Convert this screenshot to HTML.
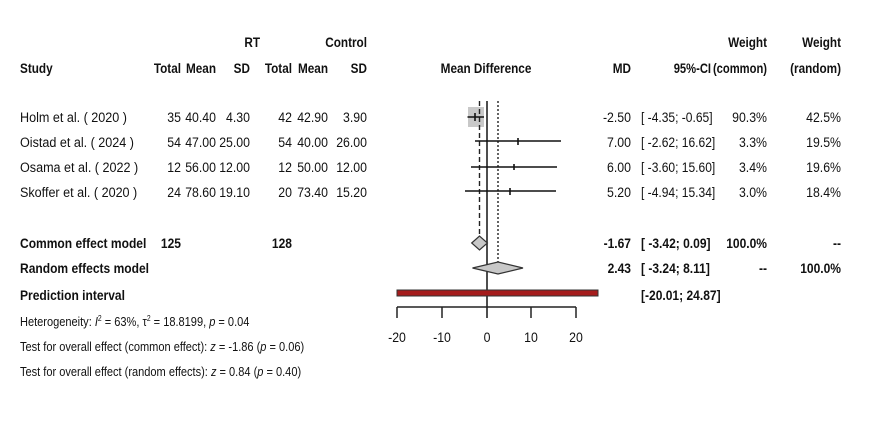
<!DOCTYPE html>
<html><head><style>
body{margin:0;background:#fff;}
svg text{font-family:"Liberation Sans Narrow","Liberation Sans",sans-serif;font-size:14px;fill:#111;}
.b{font-weight:bold;}
</style></head><body>
<svg width="886" height="431" viewBox="0 0 886 431" xmlns="http://www.w3.org/2000/svg">
<g>
<text class="b" text-anchor="end" transform="translate(260,47) scale(.84,1)">RT</text>
<text class="b" text-anchor="end" transform="translate(367,47) scale(.84,1)">Control</text>
<text class="b" text-anchor="end" transform="translate(767,47) scale(.84,1)">Weight</text>
<text class="b" text-anchor="end" transform="translate(841,47) scale(.84,1)">Weight</text>
<text class="b" transform="translate(20,73) scale(.84,1)">Study</text>
<text class="b" text-anchor="end" transform="translate(181,73) scale(.84,1)">Total</text>
<text class="b" text-anchor="end" transform="translate(216,73) scale(.84,1)">Mean</text>
<text class="b" text-anchor="end" transform="translate(250,73) scale(.84,1)">SD</text>
<text class="b" text-anchor="end" transform="translate(292,73) scale(.84,1)">Total</text>
<text class="b" text-anchor="end" transform="translate(328,73) scale(.84,1)">Mean</text>
<text class="b" text-anchor="end" transform="translate(367,73) scale(.84,1)">SD</text>
<text class="b" text-anchor="middle" transform="translate(486,73) scale(.84,1)">Mean Difference</text>
<text class="b" text-anchor="end" transform="translate(631,73) scale(.84,1)">MD</text>
<text class="b" text-anchor="end" transform="translate(711,73) scale(.8,1)">95%-CI</text>
<text class="b" text-anchor="end" transform="translate(767,73) scale(.8,1)">(common)</text>
<text class="b" text-anchor="end" transform="translate(841,73) scale(.84,1)">(random)</text>
</g>
<g>
<g transform="translate(0,122)">
<text transform="translate(20,0) scale(.9,1)">Holm et al. ( 2020 )</text>
<text text-anchor="end" transform="translate(181,0) scale(.88,1)">35</text>
<text text-anchor="end" transform="translate(216,0) scale(.88,1)">40.40</text>
<text text-anchor="end" transform="translate(250,0) scale(.88,1)">4.30</text>
<text text-anchor="end" transform="translate(292,0) scale(.88,1)">42</text>
<text text-anchor="end" transform="translate(328,0) scale(.88,1)">42.90</text>
<text text-anchor="end" transform="translate(367,0) scale(.88,1)">3.90</text>
<text text-anchor="end" transform="translate(631,0) scale(.88,1)">-2.50</text>
<text transform="translate(641,0) scale(.86,1)">[ -4.35; -0.65]</text>
<text text-anchor="end" transform="translate(767,0) scale(.88,1)">90.3%</text>
<text text-anchor="end" transform="translate(841,0) scale(.88,1)">42.5%</text>
</g>
<g transform="translate(0,147)">
<text transform="translate(20,0) scale(.9,1)">Oistad et al. ( 2024 )</text>
<text text-anchor="end" transform="translate(181,0) scale(.88,1)">54</text>
<text text-anchor="end" transform="translate(216,0) scale(.88,1)">47.00</text>
<text text-anchor="end" transform="translate(250,0) scale(.88,1)">25.00</text>
<text text-anchor="end" transform="translate(292,0) scale(.88,1)">54</text>
<text text-anchor="end" transform="translate(328,0) scale(.88,1)">40.00</text>
<text text-anchor="end" transform="translate(367,0) scale(.88,1)">26.00</text>
<text text-anchor="end" transform="translate(631,0) scale(.88,1)">7.00</text>
<text transform="translate(641,0) scale(.86,1)">[ -2.62; 16.62]</text>
<text text-anchor="end" transform="translate(767,0) scale(.88,1)">3.3%</text>
<text text-anchor="end" transform="translate(841,0) scale(.88,1)">19.5%</text>
</g>
<g transform="translate(0,172)">
<text transform="translate(20,0) scale(.9,1)">Osama et al. ( 2022 )</text>
<text text-anchor="end" transform="translate(181,0) scale(.88,1)">12</text>
<text text-anchor="end" transform="translate(216,0) scale(.88,1)">56.00</text>
<text text-anchor="end" transform="translate(250,0) scale(.88,1)">12.00</text>
<text text-anchor="end" transform="translate(292,0) scale(.88,1)">12</text>
<text text-anchor="end" transform="translate(328,0) scale(.88,1)">50.00</text>
<text text-anchor="end" transform="translate(367,0) scale(.88,1)">12.00</text>
<text text-anchor="end" transform="translate(631,0) scale(.88,1)">6.00</text>
<text transform="translate(641,0) scale(.86,1)">[ -3.60; 15.60]</text>
<text text-anchor="end" transform="translate(767,0) scale(.88,1)">3.4%</text>
<text text-anchor="end" transform="translate(841,0) scale(.88,1)">19.6%</text>
</g>
<g transform="translate(0,197)">
<text transform="translate(20,0) scale(.9,1)">Skoffer et al. ( 2020 )</text>
<text text-anchor="end" transform="translate(181,0) scale(.88,1)">24</text>
<text text-anchor="end" transform="translate(216,0) scale(.88,1)">78.60</text>
<text text-anchor="end" transform="translate(250,0) scale(.88,1)">19.10</text>
<text text-anchor="end" transform="translate(292,0) scale(.88,1)">20</text>
<text text-anchor="end" transform="translate(328,0) scale(.88,1)">73.40</text>
<text text-anchor="end" transform="translate(367,0) scale(.88,1)">15.20</text>
<text text-anchor="end" transform="translate(631,0) scale(.88,1)">5.20</text>
<text transform="translate(641,0) scale(.86,1)">[ -4.94; 15.34]</text>
<text text-anchor="end" transform="translate(767,0) scale(.88,1)">3.0%</text>
<text text-anchor="end" transform="translate(841,0) scale(.88,1)">18.4%</text>
</g>
<g transform="translate(0,248)">
<text class="b" transform="translate(20,0) scale(.86,1)">Common effect model</text>
<text class="b" text-anchor="end" transform="translate(181,0) scale(.86,1)">125</text>
<text class="b" text-anchor="end" transform="translate(292,0) scale(.86,1)">128</text>
<text class="b" text-anchor="end" transform="translate(631,0) scale(.86,1)">-1.67</text>
<text class="b" transform="translate(641,0) scale(.86,1)">[ -3.42; 0.09]</text>
<text class="b" text-anchor="end" transform="translate(767,0) scale(.86,1)">100.0%</text>
<text class="b" text-anchor="end" transform="translate(841,0) scale(.86,1)">--</text>
</g>
<g transform="translate(0,273)">
<text class="b" transform="translate(20,0) scale(.86,1)">Random effects model</text>
<text class="b" text-anchor="end" transform="translate(631,0) scale(.86,1)">2.43</text>
<text class="b" transform="translate(641,0) scale(.86,1)">[ -3.24; 8.11]</text>
<text class="b" text-anchor="end" transform="translate(767,0) scale(.86,1)">--</text>
<text class="b" text-anchor="end" transform="translate(841,0) scale(.86,1)">100.0%</text>
</g>
<g transform="translate(0,300)">
<text class="b" transform="translate(20,0) scale(.86,1)">Prediction interval</text>
<text class="b" transform="translate(641,0) scale(.86,1)">[-20.01; 24.87]</text>
</g>
<text style="font-size:13px" transform="translate(20,326) scale(.85,1)">Heterogeneity: <tspan font-style="italic">I</tspan><tspan dy="-5" style="font-size:8px">2</tspan><tspan dy="5"> = 63%, τ</tspan><tspan dy="-5" style="font-size:8px">2</tspan><tspan dy="5"> = 18.8199, </tspan><tspan font-style="italic">p</tspan> = 0.04</text>
<text style="font-size:13px" transform="translate(20,351) scale(.85,1)">Test for overall effect (common effect): <tspan font-style="italic">z</tspan> = -1.86 (<tspan font-style="italic">p</tspan> = 0.06)</text>
<text style="font-size:13px" transform="translate(20,376) scale(.85,1)">Test for overall effect (random effects): <tspan font-style="italic">z</tspan> = 0.84 (<tspan font-style="italic">p</tspan> = 0.40)</text>
</g>
<rect x="468" y="107" width="16" height="20" fill="#c8c8c8"/>
<line x1="487" y1="101" x2="487" y2="318" stroke="#222" stroke-width="1.6"/>
<line x1="479.5" y1="101" x2="479.5" y2="240" stroke="#222" stroke-width="1.4" stroke-dasharray="5,3"/>
<line x1="498" y1="101" x2="498" y2="262" stroke="#222" stroke-width="1.4" stroke-dasharray="2,2"/>
<g stroke="#111" stroke-width="1.6">
<line x1="467.5" y1="117" x2="484" y2="117"/><line x1="475" y1="113" x2="475" y2="121"/>
<line x1="475" y1="141" x2="561" y2="141"/><line x1="518" y1="138" x2="518" y2="145"/>
<line x1="471" y1="167" x2="557" y2="167"/><line x1="514" y1="164" x2="514" y2="170"/>
<line x1="465" y1="191" x2="556" y2="191"/><line x1="510" y1="188" x2="510" y2="195"/>
</g>
<polygon points="471.7,243 479.5,236 487.4,243 479.5,250" fill="#c8c8c8" stroke="#333" stroke-width="1.2"/>
<polygon points="472.5,268 498,262 523,268 498,274" fill="#c8c8c8" stroke="#333" stroke-width="1.2"/>
<rect x="397" y="290" width="201" height="6" fill="#a51c1c" stroke="#333" stroke-width="1"/>
<g stroke="#222" stroke-width="1.5">
<line x1="397" y1="307" x2="576" y2="307"/>
<line x1="397" y1="307" x2="397" y2="318"/><line x1="442" y1="307" x2="442" y2="318"/>
<line x1="531" y1="307" x2="531" y2="318"/><line x1="576" y1="307" x2="576" y2="318"/>
</g>
<g text-anchor="middle">
<text transform="translate(397,342) scale(.88,1)">-20</text>
<text transform="translate(442,342) scale(.88,1)">-10</text>
<text transform="translate(487,342) scale(.88,1)">0</text>
<text transform="translate(531,342) scale(.88,1)">10</text>
<text transform="translate(576,342) scale(.88,1)">20</text>
</g>
</svg>
</body></html>
